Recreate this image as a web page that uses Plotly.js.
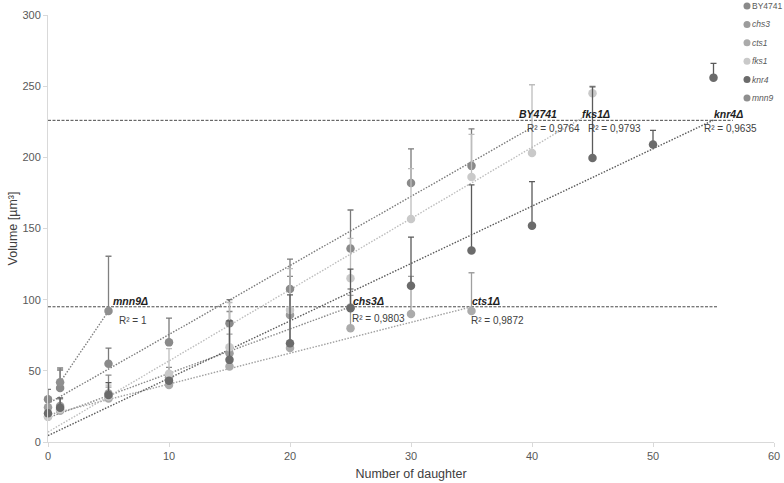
<!DOCTYPE html>
<html><head><meta charset="utf-8">
<script src="https://cdn.plot.ly/plotly-3.0.1.min.js"></script>
<style>html,body{margin:0;padding:0;background:#fff}#chart{width:784px;height:483px}</style>
</head><body><div id="chart"></div>
<script>
// ---------- data ----------
const strains = ["BY4741", "chs3", "cts1", "fks1", "knr4", "mnn9"];
const legendNames = ["BY4741", "<i>chs3</i>", "<i>cts1</i>", "<i>fks1</i>", "<i>knr4</i>", "<i>mnn9</i>"];

const xBY4741 = [0, 1, 5, 10, 15, 20, 25, 30, 35];
const yBY4741 = [30, 38, 55, 70, 83.5, 107.5, 136, 182, 194];
const eBY4741 = [7, 12.6, 11, 17, 16.5, 21, 27, 24, 26];

const xChs3 = [0, 1, 5, 10, 15, 20, 25];
const yChs3 = [24.4, 25.3, 34, 45.5, 62.4, 89.3, 94.5];
const eChs3 = [0, 5, 13, 7, 29.3, 27, 13];

const xCts1 = [0, 1, 5, 10, 15, 20, 25, 30, 35];
const yCts1 = [17.8, 22, 30.5, 40, 53, 66, 80, 90, 92];
const eCts1 = [0, 0, 8, 0, 22.8, 28, 23, 26.3, 26.9];

const xFks1 = [0, 1, 5, 10, 15, 20, 25, 30, 35, 40, 45];
const yFks1 = [17.8, 23, 32, 48, 66.6, 92.8, 115, 156.6, 186.2, 203, 245];
const eFks1 = [0, 0, 8, 17.6, 31.4, 29, 28, 35.4, 30, 48, 5];

const xKnr4 = [0, 1, 5, 10, 15, 20, 25, 30, 35, 40, 45, 50, 55];
const yKnr4 = [20.2, 24, 33, 43, 57.7, 69.4, 94, 109.7, 134.6, 152, 199.5, 209, 256];
const eKnr4 = [0, 7, 8.7, 0, 27.4, 34, 27.5, 34.3, 46, 31, 50, 10, 10];

const xMnn9 = [1, 5];
const yMnn9 = [42, 92];
const eMnn9 = [10, 38.5];

// linear trend lines
const trendIntercept = [27, 17, 19, 7, 4.5, 29.5];
const trendSlope = [4.85, 3.12, 2.17, 5.0, 4.03, 12.5];
const trendStart = [0, 0, 0, 0, 0, 1];
const trendEnd = [40, 25, 35, 44.2, 55, 5];
const rSquared = ["0,9764", "0,9803", "0,9872", "0,9793", "0,9635", "1"];
const strainLabels = ["BY4741", "chs3Δ", "cts1Δ", "fks1Δ", "knr4Δ", "mnn9Δ"];

// reference volume levels
const thresholdY = [226, 95];
const thresholdEnd = [56.6, 55.4];

const xTickVals = [0, 10, 20, 30, 40, 50, 60];
const yTickVals = [0, 50, 100, 150, 200, 250, 300];

// ---------- styles / positions ----------
const xs = [xBY4741, xChs3, xCts1, xFks1, xKnr4, xMnn9];
const ys = [yBY4741, yChs3, yCts1, yFks1, yKnr4, yMnn9];
const es = [eBY4741, eChs3, eCts1, eFks1, eKnr4, eMnn9];
const markerColors = ["#8a8a8a", "#9c9c9c", "#ababab", "#c9c9c9", "#6b6b6b", "#8f8f8f"];
const trendColors = ["#7a7a7a", "#8a8a8a", "#a0a0a0", "#bdbdbd", "#5a5a5a", "#808080"];
const labelPos = [[38.76, 230.7], [25.02, 99.2], [34.88, 99.3], [43.97, 230.7], [54.88, 230.7], [5.18, 99]];
const r2Pos = [[39.4, 220.4], [24.96, 87], [34.82, 85.6], [44.46, 220.4], [54.05, 220.4], [5.68, 85.1]];

const FONT = "Liberation Sans, Arial, sans-serif";
const traces = [];

thresholdY.forEach((t, i) => {
  traces.push({x: [0, thresholdEnd[i]], y: [t, t], mode: "lines", showlegend: false, hoverinfo: "skip",
    line: {color: "#4a4a4a", width: 1, dash: "3px,1.5px"}, cliponaxis: false});
});
strains.forEach((s, i) => {
  const x0 = trendStart[i], x1 = trendEnd[i];
  traces.push({x: [x0, x1], y: [trendIntercept[i] + trendSlope[i] * x0, trendIntercept[i] + trendSlope[i] * x1],
    mode: "lines", showlegend: false, hoverinfo: "skip",
    line: {color: trendColors[i], width: 1.4, dash: "1.5px,1.5px"}, cliponaxis: false});
});
strains.forEach((s, i) => {
  traces.push({x: xs[i], y: ys[i], mode: "markers", name: legendNames[i], showlegend: false,
    marker: {size: 8.5, color: markerColors[i]}, cliponaxis: false,
    error_y: {type: "data", symmetric: false, array: es[i], arrayminus: es[i].map(() => 0),
      color: trendColors[i], thickness: 1.3, width: 3}});
});

const annotations = [];
const shapes = [];
strains.forEach((s, i) => {
  annotations.push({x: labelPos[i][0], y: labelPos[i][1], xref: "x", yref: "y", xanchor: "left", yanchor: "middle",
    showarrow: false, text: "<b><i>" + strainLabels[i] + "</i></b>", font: {family: FONT, size: 10.5, color: "#1e1e1e"}});
  annotations.push({x: r2Pos[i][0], y: r2Pos[i][1], xref: "x", yref: "y", xanchor: "left", yanchor: "middle",
    showarrow: false, text: "R² = " + rSquared[i], font: {family: FONT, size: 10, color: "#404040"}});
});

// custom legend (top right)
const plotW = 726, plotH = 427, padL = 48, padT = 15;
strains.forEach((s, i) => {
  const py = 6 + i * 18.4;
  const yp = (plotH + padT - py) / plotH;
  shapes.push({type: "circle", xref: "paper", yref: "paper", xsizemode: "pixel", ysizemode: "pixel",
    xanchor: (747 - padL) / plotW, yanchor: yp, x0: -3.5, x1: 3.5, y0: -3.5, y1: 3.5,
    fillcolor: markerColors[i], line: {width: 0}});
  annotations.push({x: (750 - padL) / plotW, y: yp, xref: "paper", yref: "paper", xanchor: "left", yanchor: "middle",
    showarrow: false, text: legendNames[i], font: {family: FONT, size: 8.5, color: "#595959"}});
});

const axisCommon = {showline: true, linecolor: "#d9d9d9", linewidth: 1, ticks: "outside", ticklen: 4,
  tickcolor: "#d9d9d9", showgrid: false, zeroline: false, tickfont: {family: FONT, size: 11, color: "#595959"}};

const layout = {
  width: 784, height: 483,
  margin: {l: padL, r: 10, t: padT, b: 41},
  paper_bgcolor: "#ffffff", plot_bgcolor: "#ffffff",
  showlegend: false,
  xaxis: Object.assign({}, axisCommon, {range: [0, 60], tickvals: xTickVals,
    title: {text: "Number of daughter", font: {family: FONT, size: 12.5, color: "#404040"}, standoff: 8}}),
  yaxis: Object.assign({}, axisCommon, {range: [0, 300], tickvals: yTickVals,
    title: {text: "Volume [µm³]", font: {family: FONT, size: 12.5, color: "#404040"}, standoff: 2}}),
  annotations: annotations,
  shapes: shapes
};

Plotly.newPlot("chart", traces, layout, {displayModeBar: false, staticPlot: true});
</script>
</body></html>
